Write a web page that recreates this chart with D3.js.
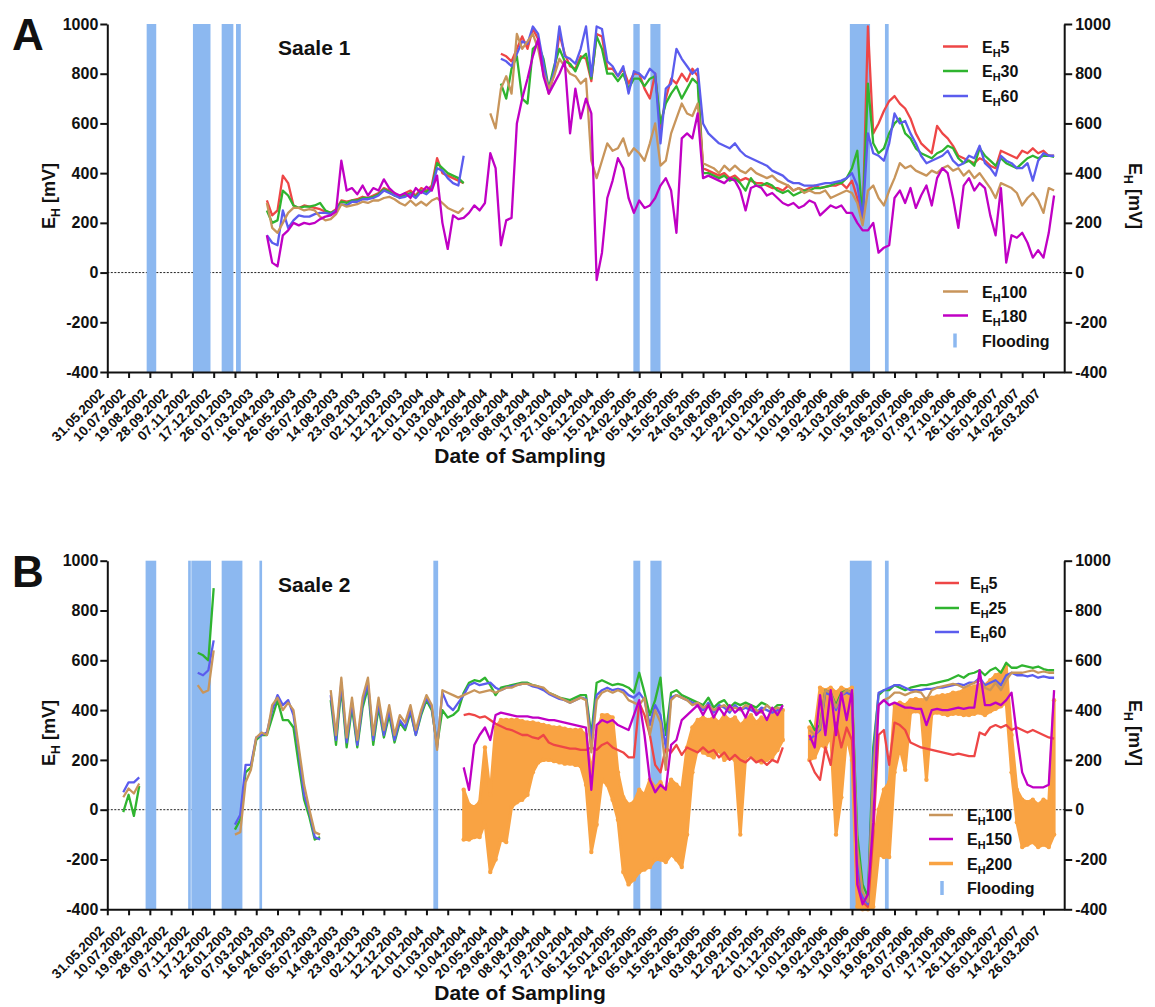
<!DOCTYPE html>
<html>
<head>
<meta charset="utf-8">
<script src="https://cdn.jsdelivr.net/npm/d3@7"></script>
<style>
  body { margin: 0; background: #fff; }
  svg { display: block; }
  text { font-family: "Liberation Sans", Arial, sans-serif; font-weight: bold; fill: #111; }
</style>
</head>
<body>
<svg id="fig" width="1155" height="1007"></svg>
<script>
const _ = null;

// Sampling-date tick labels (every 40 days)
const tickLabels = [
  "31.05.2002","10.07.2002","19.08.2002","28.09.2002","07.11.2002","17.12.2002","26.01.2003",
  "07.03.2003","16.04.2003","26.05.2003","05.07.2003","14.08.2003","23.09.2003","02.11.2003",
  "12.12.2003","21.01.2004","01.03.2004","10.04.2004","20.05.2004","29.06.2004","08.08.2004",
  "17.09.2004","27.10.2004","06.12.2004","15.01.2005","24.02.2005","05.04.2005","15.05.2005",
  "24.06.2005","03.08.2005","12.09.2005","22.10.2005","01.12.2005","10.01.2006","19.02.2006",
  "31.03.2006","10.05.2006","19.06.2006","29.07.2006","07.09.2006","17.10.2006","26.11.2006",
  "05.01.2007","14.02.2007","26.03.2007"
];
const yTicks = [-400, -200, 0, 200, 400, 600, 800, 1000];

// Series are sampled every 10 days from these first dates
const sampleStepDays = 10;
const startA = "27.03.2003";
const startB = "20.06.2002";

// Flooding periods
const floodA = [
  ["13.08.2002","31.08.2002"],["08.11.2002","11.12.2002"],["01.01.2003","23.01.2003"],
  ["28.01.2003","06.02.2003"],["13.02.2005","25.02.2005"],["17.03.2005","05.04.2005"],
  ["27.03.2006","04.05.2006"],["01.06.2006","08.06.2006"]
];
const floodB = [
  ["11.08.2002","31.08.2002"],["30.10.2002","04.11.2002"],["05.11.2002","12.12.2002"],
  ["01.01.2003","09.02.2003"],["13.03.2003","18.03.2003"],["03.02.2004","12.02.2004"],
  ["13.02.2005","26.02.2005"],["17.03.2005","07.04.2005"],["27.03.2006","07.05.2006"],
  ["01.06.2006","08.06.2006"]
];

// ---- Saale 1: redox potential E_H [mV] at 5, 30, 60, 100, 180 cm ----
const a_e5 = [
  290,230,250,390,360,270,260,270,265,260,
  255,245,240,255,290,285,290,295,305,300,
  310,320,340,330,320,300,320,330,310,340,
  330,350,460,400,390,380,370,360,_,_,
  _,_,_,_,880,870,850,900,950,900,
  980,940,820,720,800,960,880,830,820,870,
  860,770,960,950,820,820,790,820,760,800,
  800,740,700,800,580,700,780,760,800,770,
  820,790,420,410,400,390,400,380,390,370,
  380,370,360,360,350,340,340,330,350,330,
  340,330,340,350,340,345,350,350,360,340,
  370,300,200,990,560,600,650,690,710,680,
  660,620,560,520,500,480,590,560,540,510,
  470,460,450,440,460,450,430,420,490,480,
  470,460,490,480,500,480,490,470,470
];
const a_e30 = [
  250,200,210,330,310,270,260,265,265,270,
  280,250,240,250,285,280,290,290,300,300,
  305,315,335,325,310,305,310,320,305,330,
  325,340,440,420,400,390,380,360,_,_,
  _,_,_,_,760,700,820,870,700,680,
  900,920,860,740,830,900,850,840,810,860,
  880,780,950,900,800,800,770,800,740,780,
  780,750,780,790,600,680,720,750,700,740,
  780,760,400,400,390,380,390,370,380,360,
  330,380,350,350,360,350,330,320,330,310,
  320,330,330,340,340,345,350,360,360,380,
  420,490,210,760,520,480,500,560,600,620,
  560,540,500,480,470,460,480,490,510,500,
  460,440,450,430,500,470,450,430,460,440,
  430,420,440,460,470,460,470,470,465
];
const a_e60 = [
  150,120,110,250,180,210,230,225,225,235,
  240,240,235,250,275,270,285,285,295,295,
  300,310,330,320,310,300,305,315,300,325,
  315,335,420,410,380,360,350,470,_,_,
  _,_,_,_,860,850,830,880,930,920,
  990,960,840,730,810,990,870,860,840,900,
  990,790,990,980,850,830,790,830,720,810,
  800,780,820,800,520,740,760,900,860,830,
  800,820,600,560,540,520,510,500,520,490,
  470,460,450,440,430,410,400,390,370,360,
  360,350,350,350,355,360,360,365,370,380,
  400,350,220,560,480,470,450,520,640,600,
  610,560,520,470,440,450,460,470,490,450,
  430,440,470,460,510,440,420,390,470,450,
  440,420,420,440,370,450,480,470,470
];
const a_e100 = [
  280,180,160,200,240,260,260,250,255,250,
  225,210,215,235,275,265,270,275,285,280,
  290,290,300,305,295,280,270,290,270,285,
  270,290,300,280,260,250,240,260,_,_,
  _,_,640,580,740,790,720,960,900,930,
  960,900,800,740,790,860,830,800,790,760,
  780,450,380,450,520,490,500,540,470,500,
  480,450,520,600,430,450,560,620,680,640,
  630,680,440,430,420,400,430,410,430,410,
  400,420,400,390,380,390,370,360,350,330,
  340,320,330,320,320,330,300,310,320,330,
  320,280,190,330,350,300,270,330,380,440,
  420,430,410,400,390,410,400,420,430,410,
  420,390,410,380,400,370,340,300,360,350,
  340,320,270,300,320,290,240,340,330
];
const a_e180 = [
  150,40,25,150,170,200,190,200,195,200,
  215,225,230,245,450,330,340,315,350,310,
  340,330,375,340,320,310,320,300,340,320,
  345,330,390,200,95,230,215,220,240,270,
  250,280,480,420,110,210,220,600,700,780,
  870,940,790,720,760,800,850,560,740,620,
  700,640,-30,80,300,370,460,420,300,240,
  290,260,270,300,350,380,330,160,540,560,
  540,640,380,390,380,370,360,380,370,330,
  250,340,350,340,310,320,300,280,270,280,
  260,270,290,280,230,250,270,260,270,240,
  240,200,170,170,200,80,100,110,300,330,
  280,340,260,310,350,270,380,420,400,300,
  180,350,380,330,360,340,230,150,340,40,
  150,140,160,120,60,90,60,160,310
];

// ---- Saale 2: redox potential E_H [mV] at 5, 25, 60, 100, 150, 200 cm ----
const b_e5 = [
  _,_,_,_,_,_,_,_,_,_,
  _,_,_,_,_,_,_,_,_,_,
  _,_,_,_,_,_,_,_,_,_,
  _,_,_,_,_,_,_,_,_,_,
  _,_,_,_,_,_,_,_,_,_,
  _,_,_,_,_,_,_,_,_,_,
  _,_,_,_,_,380,385,380,370,375,
  360,345,335,325,320,310,300,300,290,285,
  300,270,260,255,250,245,245,240,240,250,
  240,260,270,250,240,230,210,210,430,380,
  300,180,150,250,230,260,220,250,240,230,
  250,230,240,210,230,200,220,200,190,210,
  190,200,180,200,190,250,_,_,_,_,
  200,150,120,250,180,350,250,330,280,-250,
  -370,-390,-100,300,320,180,350,340,320,270,
  260,250,245,240,235,230,225,220,225,220,
  215,215,310,300,330,340,330,340,320,330,
  320,310,320,310,300,290,285
];
const b_e25 = [
  _,-10,60,-25,95,_,_,_,_,_,
  _,_,_,_,_,630,620,600,890,_,
  _,_,-80,-40,150,170,280,300,300,370,
  440,360,360,330,180,40,-30,-120,-110,_,
  440,260,490,250,410,250,410,490,260,410,
  290,380,270,350,320,390,300,380,440,400,
  260,400,370,380,400,470,510,520,515,530,
  500,460,490,495,500,505,510,510,500,495,
  485,470,460,450,445,440,450,460,460,300,
  510,520,510,500,505,500,490,470,550,470,
  380,440,530,300,470,480,460,450,440,430,
  420,450,410,430,440,410,430,420,430,420,
  410,430,420,400,420,420,_,_,_,_,
  360,320,340,480,470,420,470,480,470,-100,
  -300,-350,250,460,480,480,500,490,480,490,
  495,500,500,505,510,515,520,530,540,530,
  545,550,560,540,560,570,550,590,570,570,
  580,575,570,575,565,560,560
];
const b_e60 = [
  _,70,110,110,130,_,_,_,_,_,
  _,_,_,_,_,550,540,560,680,_,
  _,_,-60,-20,180,180,290,300,310,400,
  460,420,440,380,230,60,-10,-110,-120,_,
  460,280,510,270,430,260,430,510,280,430,
  300,400,280,360,330,400,300,390,450,410,
  250,470,420,400,430,460,500,510,500,505,
  510,490,480,490,495,500,505,505,495,490,
  480,465,455,445,440,430,440,450,445,280,
  460,480,490,480,485,480,460,450,470,440,
  340,420,380,250,450,460,450,440,430,420,
  400,430,390,420,410,390,420,400,410,400,
  390,410,400,390,400,410,_,_,_,_,
  280,300,320,470,460,400,460,470,460,-200,
  -350,-380,200,470,480,490,500,500,490,480,
  480,480,485,485,490,490,495,500,505,500,
  510,510,530,500,510,520,500,540,550,540,
  540,535,540,530,535,530,530
];
const b_e100 = [
  _,50,85,65,105,_,_,_,_,_,
  _,_,_,_,_,500,470,480,640,_,
  _,_,-100,-90,110,160,290,310,300,420,
  450,400,430,400,250,100,0,-90,-100,_,
  480,300,530,290,450,280,450,530,300,450,
  320,420,300,380,350,420,320,400,460,420,
  240,480,470,460,450,460,470,480,470,475,
  480,470,480,490,490,500,505,505,500,495,
  490,470,460,450,440,430,440,450,440,230,
  440,470,480,470,480,470,440,430,420,450,
  300,400,350,160,440,460,450,440,420,430,
  410,420,400,410,420,400,410,400,420,410,
  400,390,420,400,410,400,_,_,_,_,
  320,300,330,480,470,410,460,480,470,-150,
  -330,-370,150,420,440,450,470,470,460,470,
  475,470,440,480,490,495,500,505,500,490,
  500,510,520,490,480,510,480,520,550,550,
  550,555,560,550,555,550,550
];
const b_e150 = [
  _,_,_,_,_,_,_,_,_,_,
  _,_,_,_,_,_,_,_,_,_,
  _,_,_,_,_,_,_,_,_,_,
  _,_,_,_,_,_,_,_,_,_,
  _,_,_,_,_,_,_,_,_,_,
  _,_,_,_,_,_,_,_,_,_,
  _,_,_,_,_,170,80,260,300,330,
  280,380,390,385,380,375,375,375,370,370,
  365,360,360,355,350,345,340,335,330,80,
  340,360,350,360,340,330,320,380,440,300,
  120,70,100,80,260,280,360,380,400,420,
  380,420,370,410,380,420,390,410,370,420,
  380,400,360,410,380,420,_,_,_,_,
  300,250,460,300,480,300,470,360,480,-300,
  -380,-340,-50,420,440,420,430,420,410,410,
  405,405,340,400,405,400,400,405,410,405,
  410,410,560,420,420,430,420,440,470,300,
  150,100,90,90,90,100,480
];
// E_H200 swings widely day to day: upper and lower envelope of its readings
const b_e200High = [
  _,_,_,_,_,_,_,_,_,_,
  _,_,_,_,_,_,_,_,_,_,
  _,_,_,_,_,_,_,_,_,_,
  _,_,_,_,_,_,_,_,_,_,
  _,_,_,_,_,_,_,_,_,_,
  _,_,_,_,_,_,_,_,_,_,
  _,_,_,_,_,80,20,10,30,250,
  60,330,360,360,360,360,355,350,350,345,
  340,335,330,330,325,320,320,320,300,150,
  300,380,380,370,150,50,20,30,80,60,
  120,90,110,70,120,100,80,250,330,360,
  370,360,370,350,380,360,370,340,360,380,
  350,370,360,380,390,400,_,_,_,_,
  330,320,490,480,490,470,490,480,490,-300,
  -380,-390,-150,0,80,110,420,430,420,440,
  445,440,445,450,455,460,460,470,470,480,
  490,495,500,500,520,540,550,580,300,80,
  40,30,40,20,40,30,440
];
const b_e200Low = [
  _,_,_,_,_,_,_,_,_,_,
  _,_,_,_,_,_,_,_,_,_,
  _,_,_,_,_,_,_,_,_,_,
  _,_,_,_,_,_,_,_,_,_,
  _,_,_,_,_,_,_,_,_,_,
  _,_,_,_,_,_,_,_,_,_,
  _,_,_,_,_,-120,-120,-110,-110,-50,
  -250,-200,-120,-130,10,30,40,60,150,190,
  200,200,195,190,185,185,180,175,100,-170,
  -60,120,100,40,-40,-250,-300,-280,-250,-240,
  -230,-200,-200,-210,-180,-200,-230,-100,150,250,
  230,220,210,240,200,210,200,-100,210,220,
  200,190,200,210,240,280,_,_,_,_,
  200,210,260,250,300,-100,50,300,200,-390,
  -400,-400,-390,-180,-190,-190,150,250,160,390,
  395,390,120,385,390,385,380,385,385,380,
  380,385,390,380,395,405,415,430,150,-50,
  -150,-140,-130,-150,-140,-150,-100
];

// ---------------------------------------------------------------
const colors = {
  e5: "#ee4646", e25: "#2fb42f", e60: "#5b5cee", e100: "#c8955b",
  e150: "#c000c4", e200: "#f9a343", flood: "#8cb8f0"
};
const parse = d3.utcParse("%d.%m.%Y");
const tickDates = tickLabels.map(parse);
const svg = d3.select("#fig");

// date axis shared by both panels
const x = d3.scaleUtc()
  .domain([parse("31.05.2002"), parse("04.05.2007")])
  .range([107.3, 1064.2]);
const xLeft = x.range()[0], xRight = x.range()[1];

function toPoints(values, start) {
  const s = parse(start);
  return values.map((v, i) => ({ date: d3.utcDay.offset(s, i * sampleStepDays), v }));
}

function ehLabel(sel, suffix, size) {
  sel.append("tspan").text("E");
  sel.append("tspan").attr("font-size", size * 0.68).attr("dy", size * 0.28).text("H");
  sel.append("tspan").attr("dy", -size * 0.28).text(suffix);
}

function drawPanel(p) {
  const g = svg.append("g");
  const y = d3.scaleLinear().domain([-400, 1000]).range([p.yBottom, p.yTop]);

  // zero reference line
  g.append("line")
    .attr("x1", xLeft).attr("x2", xRight)
    .attr("y1", y(0)).attr("y2", y(0))
    .attr("stroke", "#222").attr("stroke-width", 1).attr("stroke-dasharray", "2,1.5");

  // flooding periods
  g.selectAll("rect.flood").data(p.flood).join("rect")
    .attr("class", "flood")
    .attr("x", d => x(parse(d[0])))
    .attr("width", d => x(parse(d[1])) - x(parse(d[0])))
    .attr("y", y(1000)).attr("height", y(-400) - y(1000))
    .attr("fill", colors.flood);

  // wide-swinging E_H200 envelope
  if (p.band) {
    const hi = toPoints(p.band.high, p.start);
    const lo = toPoints(p.band.low, p.start);
    const pts = hi.map((d, i) => ({ date: d.date, hi: d.v, lo: lo[i].v }));
    const area = d3.area()
      .defined(d => d.hi != null && d.lo != null)
      .x(d => x(d.date)).y0(d => y(d.lo)).y1(d => y(d.hi));
    g.append("path").datum(pts).attr("d", area)
      .attr("fill", p.band.color).attr("stroke", p.band.color)
      .attr("stroke-width", 3).attr("stroke-linejoin", "round");
    const dots = pts.filter(d => d.hi != null).flatMap(d => [{ date: d.date, v: d.hi }, { date: d.date, v: d.lo }]);
    g.selectAll("circle.b").data(dots).join("circle")
      .attr("cx", d => x(d.date)).attr("cy", d => y(d.v)).attr("r", 2.2)
      .attr("fill", p.band.color);
  }

  // depth series
  const line = d3.line().defined(d => d.v != null).x(d => x(d.date)).y(d => y(d.v));
  p.series.forEach(s => {
    g.append("path").datum(toPoints(s.values, p.start)).attr("d", line)
      .attr("fill", "none").attr("stroke", s.color).attr("stroke-width", 2.3)
      .attr("stroke-linejoin", "round");
  });

  // axes
  const fmt = d => String(d);
  const yl = g.append("g").attr("transform", `translate(${xLeft},0)`)
    .call(d3.axisLeft(y).tickValues(yTicks).tickFormat(fmt).tickSize(7).tickSizeOuter(0).tickPadding(2));
  const yr = g.append("g").attr("transform", `translate(${xRight},0)`)
    .call(d3.axisRight(y).tickValues(yTicks).tickFormat(fmt).tickSize(8).tickSizeOuter(0).tickPadding(3));
  [yl, yr].forEach(a => {
    a.selectAll("text").attr("font-size", 16).attr("fill", "#111");
    a.selectAll("line").attr("stroke", "#111").attr("stroke-width", 2);
    a.select(".domain").attr("stroke", "#111").attr("stroke-width", 2);
  });
  const xa = g.append("g").attr("transform", `translate(0,${y(-400)})`)
    .call(d3.axisBottom(x).tickValues(tickDates).tickSize(6).tickSizeOuter(0)
      .tickFormat(d3.utcFormat("%d.%m.%Y")));
  xa.select(".domain").attr("stroke", "#111").attr("stroke-width", 2);
  xa.selectAll("line").attr("stroke", "#111").attr("stroke-width", 2);
  xa.selectAll("text")
    .attr("font-size", 13.5).attr("fill", "#111")
    .attr("text-anchor", "end")
    .attr("transform", "translate(-6,19) rotate(-45)")
    .attr("x", 0).attr("y", 0).attr("dy", "0.35em");

  // titles
  g.append("text").attr("x", 12).attr("y", p.yTop + 26).attr("font-size", 44).text(p.letter);
  g.append("text").attr("x", 278).attr("y", p.yTop + 31).attr("font-size", 21).text(p.title);
  g.append("text").attr("x", 520).attr("y", p.yBottom + 91).attr("text-anchor", "middle")
    .attr("font-size", 21).text("Date of Sampling");
  const ymid = (y(1000) + y(-400)) / 2;
  g.append("text").attr("transform", `translate(55,${ymid - 2}) rotate(-90)`)
    .attr("text-anchor", "middle").attr("font-size", 18).call(ehLabel, " [mV]", 18);
  g.append("text").attr("transform", `translate(1129,${ymid - 2}) rotate(90)`)
    .attr("text-anchor", "middle").attr("font-size", 18).call(ehLabel, " [mV]", 18);

  // legend
  p.legend.forEach(L => {
    if (L.flood) {
      g.append("line").attr("x1", L.mx).attr("x2", L.mx).attr("y1", L.y - 7).attr("y2", L.y + 7)
        .attr("stroke", colors.flood).attr("stroke-width", 3.5);
      g.append("text").attr("x", L.tx).attr("y", L.y + 6).attr("font-size", 16).text("Flooding");
    } else {
      g.append("line").attr("x1", L.x1).attr("x2", L.x2).attr("y1", L.y).attr("y2", L.y)
        .attr("stroke", L.color).attr("stroke-width", L.w || 2.5);
      g.append("text").attr("x", L.tx).attr("y", L.y + 6).attr("font-size", 16).call(ehLabel, L.label, 16);
    }
  });
}

drawPanel({
  letter: "A", title: "Saale 1", yTop: 24, yBottom: 372, start: startA, flood: floodA,
  series: [
    { values: a_e5, color: colors.e5 }, { values: a_e30, color: colors.e25 },
    { values: a_e60, color: colors.e60 }, { values: a_e100, color: colors.e100 },
    { values: a_e180, color: colors.e150 }
  ],
  legend: [
    { label: "5", color: colors.e5, y: 46.5, x1: 943, x2: 968, tx: 982 },
    { label: "30", color: colors.e25, y: 71, x1: 943, x2: 968, tx: 982 },
    { label: "60", color: colors.e60, y: 96, x1: 943, x2: 968, tx: 982 },
    { label: "100", color: colors.e100, y: 291.5, x1: 943, x2: 968, tx: 982 },
    { label: "180", color: colors.e150, y: 315.5, x1: 943, x2: 968, tx: 982 },
    { flood: true, y: 340.5, mx: 955, tx: 982 }
  ]
});

drawPanel({
  letter: "B", title: "Saale 2", yTop: 560.7, yBottom: 909.3, start: startB, flood: floodB,
  band: { high: b_e200High, low: b_e200Low, color: colors.e200 },
  series: [
    { values: b_e5, color: colors.e5 }, { values: b_e25, color: colors.e25 },
    { values: b_e60, color: colors.e60 }, { values: b_e100, color: colors.e100 },
    { values: b_e150, color: colors.e150 }
  ],
  legend: [
    { label: "5", color: colors.e5, y: 583, x1: 935, x2: 959, tx: 970 },
    { label: "25", color: colors.e25, y: 608, x1: 935, x2: 959, tx: 970 },
    { label: "60", color: colors.e60, y: 632, x1: 935, x2: 959, tx: 970 },
    { label: "100", color: colors.e100, y: 815, x1: 929, x2: 953, tx: 967 },
    { label: "150", color: colors.e150, y: 839, x1: 929, x2: 953, tx: 967 },
    { label: "200", color: colors.e200, y: 863.5, x1: 929, x2: 953, tx: 967, w: 3.5 },
    { flood: true, y: 888, mx: 942, tx: 967 }
  ]
});
</script>
</body>
</html>
